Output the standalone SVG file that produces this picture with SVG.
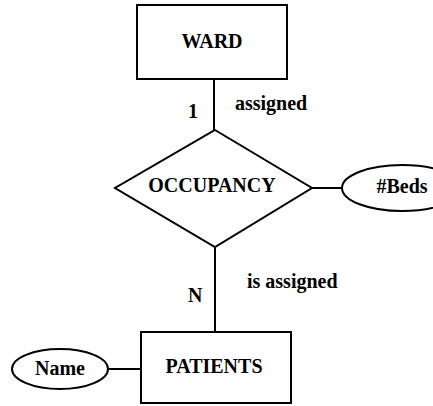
<svg xmlns="http://www.w3.org/2000/svg" width="433" height="406" viewBox="0 0 433 406">
  <style>
    .shape { fill: #ffffff; stroke: #000000; stroke-width: 2; }
    .edge { fill: none; stroke: #000000; stroke-width: 2; }
    .lbl { font-family: "Liberation Serif", "Times New Roman", serif; font-weight: bold; fill: #000000; }
    .big { font-size: 20px; text-anchor: middle; }
    .small { font-size: 20px; }
  </style>
  <rect width="433" height="406" fill="#ffffff"/>

  <!-- connectors -->
  <g id="connectors">
    <line class="edge" x1="214" y1="79" x2="214" y2="130"/>
    <line class="edge" x1="215" y1="247" x2="215" y2="332"/>
    <line class="edge" x1="312" y1="188" x2="342" y2="188"/>
    <line class="edge" x1="108" y1="369" x2="141" y2="369" stroke-width="2.5"/>
    <text class="lbl small" x="188" y="118">1</text>
    <text class="lbl small" x="235" y="110">assigned</text>
    <text class="lbl small" x="188" y="302">N</text>
    <text class="lbl small" x="247" y="288">is assigned</text>
  </g>

  <!-- entity: WARD -->
  <g id="ward">
    <rect class="shape" x="137" y="5" width="150" height="74"/>
    <text class="lbl big" x="212" y="48">WARD</text>
  </g>

  <!-- relationship: OCCUPANCY -->
  <g id="occupancy">
    <polygon class="shape" points="215,130 312,188 215,247 115,188"/>
    <text class="lbl big" x="212" y="192">OCCUPANCY</text>
  </g>

  <!-- attribute: #Beds -->
  <g id="beds">
    <ellipse class="shape" cx="402" cy="188" rx="60" ry="23"/>
    <text class="lbl big" x="402" y="193">#Beds</text>
  </g>

  <!-- entity: PATIENTS -->
  <g id="patients">
    <rect class="shape" x="141" y="332" width="150" height="71"/>
    <text class="lbl big" x="214" y="373">PATIENTS</text>
  </g>

  <!-- attribute: Name -->
  <g id="name">
    <ellipse class="shape" cx="60" cy="369" rx="48" ry="20"/>
    <text class="lbl big" x="60" y="375">Name</text>
  </g>
</svg>
